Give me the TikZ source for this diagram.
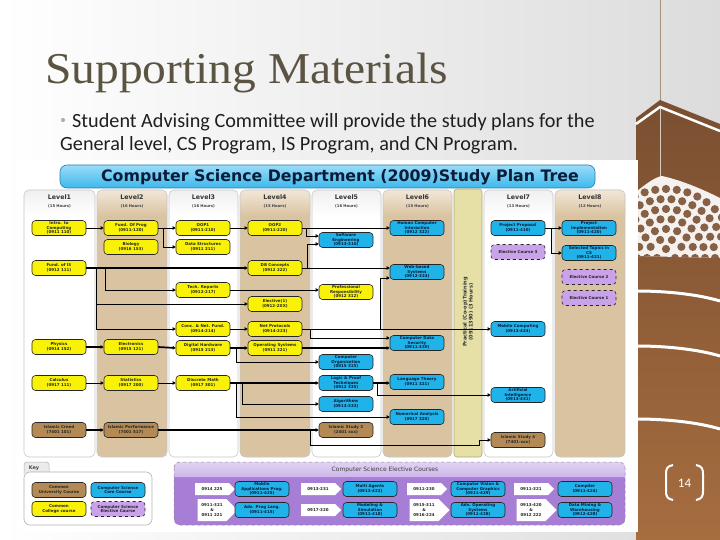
\documentclass[tikz,border=0pt]{standalone}
\usepackage{fontspec}
\setmainfont{Liberation Serif}
\newfontfamily\bodyfont{Carlito}
\newfontfamily\dvs{DejaVu Sans}
\usetikzlibrary{arrows.meta,shapes.symbols,calc}
\definecolor{ctitle}{HTML}{5C5443}
\definecolor{cbul}{HTML}{9DB4BE}
\definecolor{cyel}{HTML}{FAF206}
\definecolor{cblue}{HTML}{1FB3EA}
\definecolor{cbrown}{HTML}{B38A55}
\definecolor{cpurple}{HTML}{C9A2EA}
\definecolor{ctan}{HTML}{DAC3A1}
\definecolor{ctanl}{HTML}{F1E7D8}
\definecolor{ckhaki}{HTML}{E6E0A6}
\definecolor{cpanel}{HTML}{A77ED5}
\definecolor{cpanell}{HTML}{CDB5EA}
\definecolor{cbanner}{HTML}{3DB8EC}
\definecolor{cbannerl}{HTML}{9ADCF7}
\definecolor{cnavy}{HTML}{0B1B3A}
\definecolor{cbrtop}{HTML}{7A4F31}
\definecolor{cbrbot}{HTML}{A66D3F}
\definecolor{cbgr}{HTML}{DCDCDC}
\tikzset{
 crs/.style={draw=black!85, line width=0.6pt, rounded corners=3.5pt, minimum width=54pt, minimum height=15pt, inner sep=0.5pt, align=center, font=\dvs\bfseries\fontsize{4}{4.6}\selectfont, text=black!85},
 yel/.style={crs, fill=cyel},
 blu/.style={crs, fill=cblue, text=cnavy},
 brn/.style={crs, fill=cbrown},
 pur/.style={crs, fill=cpurple, dashed},
 ln/.style={draw=black, line width=0.9pt, -{Triangle[length=3pt,width=3.4pt]}},
 thk/.style={ln, line width=1.7pt},
 lvl/.style={font=\dvs\bfseries\fontsize{6.3}{7}\selectfont, text=black!80, inner sep=0},
 hrs/.style={font=\dvs\bfseries\fontsize{3.8}{4.5}\selectfont, text=black!75, inner sep=0},
 sig/.style={signal, signal to=east, fill=white, draw=none, minimum width=40pt, minimum height=12pt, inner sep=0.5pt, align=center, font=\dvs\bfseries\fontsize{4}{4.6}\selectfont, text=black!85},
}
\begin{document}
\begin{tikzpicture}[x=1pt,y=-1pt]
\useasboundingbox (0,0) rectangle (720,540);
% slide background
\shade[left color=white, right color=cbgr] (0,0) rectangle (720,540);
% right decoration
\draw[black!45!brown!60, line width=0.6pt] (660,0) -- (660,101);
\shade[top color=cbrtop, bottom color=cbrbot] (636,118) -- (660,100) -- (720,124) -- (720,540) -- (636,540) -- cycle;
\draw[white, line width=2.5pt] (636,124) -- (660,107) -- (720,131);
\draw[white!70!cbrtop, line width=0.5pt] (660,109) -- (660,177);
\begin{scope}
\clip (636,192) .. controls (648,182) and (656,177) .. (662,176) .. controls (680,180) and (700,188) .. (720,198) -- (720,258) -- (636,256) -- cycle;
\fill[white!92!cbrtop] (630,170) rectangle (722,260);
\foreach \r/\n in {9/2, 19/5, 29/8, 39/11, 49/14, 59/17, 69/20} {
  \foreach \k in {0,...,\n} {
    \fill[cbrtop!90!white] (666,258) ++({\r*cos(180*\k/\n)},{-\r*sin(180*\k/\n)}) circle (4.1);
  }
}
\end{scope}
\draw[white, line width=3pt] (636,291) .. controls (670,291) and (700,295) .. (720,301);
\draw[white, line width=3pt] (636,346) .. controls (670,346) and (700,350) .. (720,356);
\draw[white, line width=3pt] (636,419) .. controls (670,419) and (700,423) .. (720,429);
% page number
\draw[white, line width=2pt] (673,465) .. controls (667,466) and (666,469) .. (666,474) -- (666,491) .. controls (666,496) and (667,499) .. (673,500);
\draw[white, line width=2pt] (696,465) .. controls (702,466) and (703,469) .. (703,474) -- (703,491) .. controls (703,496) and (702,499) .. (696,500);
\node[text=white, font=\bodyfont\fontsize{13}{13}\selectfont, inner sep=0] (pg) at (684.5,483) {14};
% title and text
\node[anchor=base west, font=\fontsize{44}{44}\selectfont, text=ctitle, inner sep=0, xscale=1.08] (title) at (45,84) {Supporting Materials};
\fill[cbul] (63,120) circle (2.1);
\node[anchor=base west, font=\bodyfont\fontsize{20.2}{24}\selectfont, text=black!88, inner sep=0] (l1) at (72,128) {Student Advising Committee will provide the study plans for the};
\node[anchor=base west, font=\bodyfont\fontsize{20.2}{24}\selectfont, text=black!88, inner sep=0] (l2) at (60,151) {General level, CS Program, IS Program, and CN Program.};
% image area
\fill[white] (18,160) rectangle (638,532);
% banner
\shade[top color=cbannerl, bottom color=cbanner, rounded corners=7pt] (60,165) rectangle (595,188);
\draw[cbanner!70!black, line width=0.6pt, rounded corners=7pt] (60,165) rectangle (595,188);
\node[font=\dvs\bfseries\fontsize{15.8}{15.8}\selectfont, text=cnavy, inner sep=0] (banner) at (340,177) {Computer Science Department (2009)Study Plan Tree};
% columns
\foreach \xa/\xb/\col/\colt in {24/95/white/black!6, 97/167/ctan/ctanl, 169/238/white/black!6, 240/310/ctan/ctanl, 312/381/white/black!6, 383/452/ctan/ctanl, 484/553/white/black!6, 555/625/ctan/ctanl} {
  \fill[\col, rounded corners=5pt] (\xa,190) rectangle (\xb,457);
  \shade[top color=\colt, bottom color=\col] (\xa,216) {[rounded corners=5pt] -- (\xa,190) -- (\xb,190)} -- (\xb,216) -- cycle;
  \draw[black!22, line width=0.6pt, rounded corners=5pt] (\xa,190) rectangle (\xb,457);
}
\fill[ckhaki, rounded corners=3pt] (454,189) rectangle (482,457);
\draw[ckhaki!75!black, line width=0.6pt, rounded corners=3pt] (454,189) rectangle (482,457);
\node[rotate=90, align=center, font=\dvs\bfseries\fontsize{5}{6}\selectfont, text=black!80, inner sep=0] (prac) at (468,312) {Practical (Co-op)Training\\(0911390) (3 Hours)};
% level headers
\foreach \n/\x/\h in {1/59.5/15, 2/132/16, 3/203.5/16, 4/275/15, 5/346.5/16, 6/417.5/15, 7/518.5/13, 8/590/12} {
  \node[lvl] (lv\n) at (\x,197) {Level\n};
  \node[hrs] (hr\n) at (\x,206) {(\h\ Hours)};
}
% Level 1
\node[yel] (intro) at (59,228) {Intro. to\\Computing\\(0911 110)};
\node[yel] (fis) at (59,268) {Fund. of IS\\(0912 111)};
\node[yel] (phys) at (59,347) {Physics\\(0914 152)};
\node[yel] (calc) at (59,383) {Calculus\\(0917 111)};
\node[brn] (creed) at (59,430) {Islamic Creed\\(7401 101)};
% Level 2
\node[yel] (fop) at (131,228) {Fund. Of Prog\\(0911-120)};
\node[yel] (bio) at (131,247) {Biology\\(0916 153)};
\node[yel] (elec) at (131,347) {Electronics\\(0915 121)};
\node[yel] (stat) at (131,383) {Statistics\\(0917 200)};
\node[brn] (isp) at (131,430) {Islamic Performance\\(7401 517)};
% Level 3
\node[yel] (oop1) at (203,228) {OOP1\\(0911-210)};
\node[yel] (ds) at (203,247) {Data Structures\\(0911 211)};
\node[yel] (tech) at (203,290) {Tech. Reports\\(0912-217)};
\node[yel] (conc) at (203,329) {Conc. \& Net. Fund.\\(0914-214)};
\node[yel] (dig) at (203,348) {Digital Hardware\\(0915 213)};
\node[yel] (disc) at (203,383) {Discrete Math\\(0917 301)};
% Level 4
\node[yel] (oop2) at (275,228) {OOP2\\(0911-220)};
\node[yel] (db) at (275,268) {DB Concepts\\(0912 222)};
\node[yel] (el1) at (275,304) {Elective(1)\\(0912-2XX)};
\node[yel] (netp) at (275,329) {Net Protocols\\(0914-223)};
\node[yel] (os) at (275,348) {Operating Systems\\(0911 221)};
% Level 5
\node[blu] (se) at (346,240) {Software\\Engineering\\(0913-310)};
\node[yel] (prof) at (346,292) {Professional\\Responsibility\\(0912 312)};
\node[blu] (corg) at (346,362) {Computer\\Organization\\(0915 315)};
\node[blu] (logic) at (346,383) {Logic \& Proof\\Techniques\\(0912 335)};
\node[blu] (algo) at (346,404) {Algorithms\\(0913-333)};
\node[brn] (is3) at (346,430) {Islamic Study 3\\(2401 xxx)};
% Level 6
\node[blu] (hci) at (417,228) {Human Computer\\Interaction\\(0912 322)};
\node[blu] (web) at (417,272) {Web-based\\Systems\\(0912-324)};
\node[blu] (cds) at (417,343) {Computer Data\\Security\\(0911-330)};
\node[blu] (lang) at (417,382) {Language Theory\\(0911 321)};
\node[blu] (num) at (417,417) {Numerical Analysis\\(0917 320)};
% Level 7
\node[blu] (pp) at (518,228) {Project Proposal\\(0911-410)};
\node[pur] (ec3) at (518,252) {Elective Course 3};
\node[blu] (mob) at (518,329) {Mobile Computing\\(0913-424)};
\node[blu] (ai) at (518,395) {Artificial\\Intelligence\\(0913-431)};
\node[brn] (is4) at (518,440) {Islamic Study 4\\(7401-xxx)};
% Level 8
\node[blu] (pi) at (589,228) {Project\\Implementation\\(0911-420)};
\node[blu] (st) at (589,253) {Selected Topics in\\CS\\(0911-421)};
\node[pur] (ec2) at (589,277) {Elective Course 2};
\node[pur] (ec1) at (589,298) {Elective Course 1};
% connectors
\draw[ln] (intro.east) -- (fop.west);
\draw[ln] (fop.east) -- (oop1.west);
\draw[ln] (fop.east) -- ++(5,0) |- (ds.west);
\draw[ln] (oop1.east) -- (oop2.west);
\draw[ln] (oop2.east) -- (hci.west);
\draw[ln] (oop2.east) -- ++(4,0) |- ($(se.west)+(0,-4)$);
\draw[ln] (db.east) -- (db.east -| web.west);
\draw[ln] (db.east) -- ++(5,0) |- ($(se.west)+(0,4)$);
\draw[thk] (fis.east) -- (db.west);
\draw[ln] (fis.east) -- ++(19,0) |- (tech.west);
\draw[ln] ($(fis.east)+(10,0)$) |- (el1.west);
\draw[ln] ($(fis.east)+(10,0)$) |- (conc.west);
\draw[ln] (tech.east) -- (tech.east -| prof.west);
\draw[ln] (conc.east) -- (netp.west);
\draw[ln] (netp.east) -- (netp.east -| mob.west);
\draw[ln] ($(netp.east)+(78,0)$) |- ($(web.west)+(0,6)$);
\draw[ln] (netp.east) -- ++(8,0) |- ($(cds.west)+(0,-5)$);
\draw[thk] (os.east) -- (os.east -| cds.west);
\draw[thk] (dig.east) -- (os.west);
\draw[ln] (dig.east) -- ++(6,0) |- (corg.west);
\draw[thk] (phys.east) -- (elec.west);
\draw[thk] (elec.east) -- (dig.west);
\draw[ln] (calc.east) -- (stat.west);
\draw[ln] (stat.east) -- (disc.west);
\draw[thk] (disc.east) -- (logic.west);
\draw[ln] (disc.east) -- ++(12,0) |- (algo.west);
\draw[ln] (disc.east) -- ++(6,0) |- (num.west);
\draw[thk] (logic.east) -- (logic.east -| lang.west);
\draw[ln] (logic.east) -- ++(4,0) |- (ai.west);
\draw[thk] (creed.east) -- (isp.west);
\draw[thk] (isp.east) -- (is3.west);
\draw[ln] ($(isp.east)+(152,0)$) -- ++(0,15) -- ++(169,0) |- (is4.west);
\draw[ln] (pp.east) -- (pi.west);
\draw[ln] (pp.east) -- ++(6,0) |- (st.west);
% key
\fill[black!8, rounded corners=3pt] (24,462) rectangle (49,474);
\draw[black!30, line width=0.5pt, rounded corners=3pt] (24,474) -- (24,462) -- (49,462) -- (49,474);
\node[font=\dvs\bfseries\fontsize{5}{5}\selectfont, text=black!70, inner sep=0] (keyt) at (34,468) {Key};
\fill[white, rounded corners=6pt] (24,472) rectangle (152,525);
\draw[black!30, line width=0.6pt, rounded corners=6pt] (24,472) rectangle (152,525);
\node[brn] (k1) at (59,490) {Common\\University Course};
\node[blu] (k2) at (118,490) {Computer Science\\Core Course};
\node[yel] (k3) at (59,509) {Common\\College course};
\node[pur] (k4) at (118,509) {Computer Science\\Elective Course};
% electives panel
\fill[cpanel, rounded corners=6pt] (174,462) rectangle (625,525);
\shade[top color=cpanell!60!white, bottom color=cpanell] (174,477) {[rounded corners=6pt] -- (174,462) -- (625,462)} -- (625,477) -- cycle;
\draw[black!45, dashed, line width=0.5pt, rounded corners=6pt] (174,462) rectangle (625,525);
\node[font=\dvs\fontsize{6}{6}\selectfont, text=black!75, inner sep=0] (elt) at (385,470) {Computer Science Elective Courses};
\node[sig] (g1a) at (212,489) {0914 225};
\node[blu] (e1a) at (262,489) {Mobile\\Applications Prog.\\(0911-425)};
\node[sig, minimum height=22pt] (g1b) at (212,510) {0911-321\\\&\\0911 221};
\node[blu] (e1b) at (262,510) {Adv. Prog Lang.\\(0911-415)};
\node[sig] (g2a) at (318,489) {0913-231};
\node[blu] (e2a) at (370,489) {Multi Agents\\(0913-422)};
\node[sig] (g2b) at (318,510) {0917-320};
\node[blu] (e2b) at (370,510) {Modeling \&\\Simulation\\(0911-418)};
\node[sig] (g3a) at (424,489) {0911-230};
\node[blu] (e3a) at (478,489) {Computer Vision \&\\Computer Graphics\\(0911-429)};
\node[sig, minimum height=22pt] (g3b) at (424,510) {0915-311\\\&\\0916-224};
\node[blu] (e3b) at (478,510) {Adv. Operating\\Systems\\(0911-428)};
\node[sig] (g4a) at (531,489) {0911-321};
\node[blu] (e4a) at (585,489) {Compiler\\(0911-424)};
\node[sig, minimum height=22pt] (g4b) at (531,510) {0913-420\\\&\\0912 222};
\node[blu] (e4b) at (585,510) {Data Mining \&\\Warehousing\\(0912-428)};
\end{tikzpicture}
\end{document}
